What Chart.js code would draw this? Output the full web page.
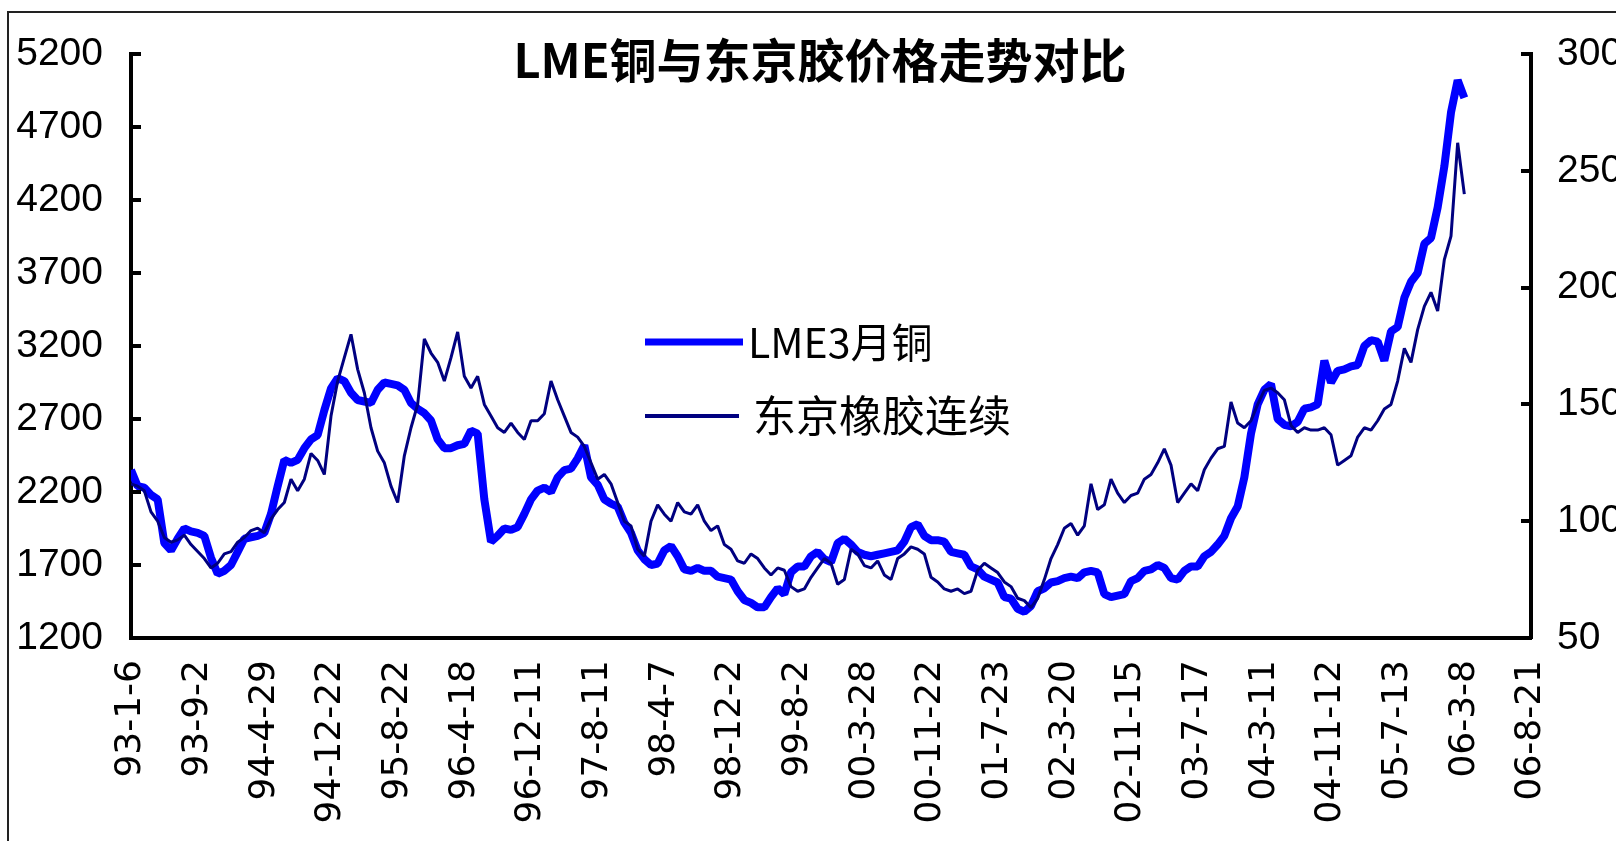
<!DOCTYPE html>
<html>
<head>
<meta charset="utf-8">
<script src="https://cdn.jsdelivr.net/npm/chart.js@4.4.0/dist/chart.umd.min.js"></script>
<style>
  html, body { margin: 0; padding: 0; background: #fff; }
  #wrap { position: relative; width: 1616px; height: 841px; overflow: hidden; }
  #frame { position: absolute; left: 7px; top: 11px; width: 1640px; height: 860px; border: 2px solid #222; pointer-events: none; }
</style>
</head>
<body>
<div id="wrap">
  <canvas id="myChart" width="1616" height="841"></canvas>
  <div id="frame"></div>
</div>
<script>
const titleText = 'LME铜与东京胶价格走势对比';

// x axis labels, one every 10 data steps
const dateLabels = ['93-1-6', '93-9-2', '94-4-29', '94-12-22', '95-8-22', '96-4-18', '96-12-11', '97-8-11',
  '98-4-7', '98-12-2', '99-8-2', '00-3-28', '00-11-22', '01-7-23', '02-3-20', '02-11-15', '03-7-17',
  '04-3-11', '04-11-12', '05-7-13', '06-3-8', '06-8-21'];

// LME 3 month copper (left axis)
const copper = [
  2350, 2240, 2230, 2180, 2150, 1850, 1800, 1880, 1950, 1930,
  1920, 1900, 1750, 1640, 1660, 1700, 1790, 1880, 1890, 1900,
  1920, 2050, 2240, 2420, 2400, 2420, 2500, 2560, 2590, 2760,
  2910, 2980, 2960, 2880, 2830, 2820, 2810, 2900, 2950, 2940,
  2930, 2900, 2810, 2770, 2740, 2690, 2560, 2500, 2500, 2520,
  2530, 2620, 2600, 2150, 1860, 1900, 1950, 1940, 1960, 2050,
  2150, 2210, 2230, 2200, 2300, 2350, 2360, 2430, 2520, 2300,
  2250, 2150, 2120, 2100, 1990, 1920, 1800, 1740, 1700, 1710,
  1800, 1830, 1760, 1670, 1660, 1680, 1660, 1660, 1620, 1610,
  1600, 1520, 1460, 1440, 1410, 1410, 1480, 1540, 1500, 1650,
  1690, 1690, 1760, 1790, 1740, 1720, 1850, 1880, 1840, 1790,
  1770, 1760, 1770, 1780, 1790, 1800, 1860, 1960, 1980, 1900,
  1870, 1870, 1860, 1790, 1780, 1770, 1690, 1670, 1620, 1600,
  1580, 1480, 1470, 1400, 1380, 1420, 1520, 1540, 1580, 1590,
  1610, 1620, 1610, 1650, 1660, 1650, 1500, 1480, 1490, 1500,
  1590, 1610, 1660, 1670, 1700, 1680, 1610, 1600, 1660, 1690,
  1690, 1760, 1790, 1840, 1900, 2020, 2100, 2300, 2600, 2800,
  2900, 2940, 2700, 2660, 2650, 2680, 2770, 2780, 2800, 3100,
  2950, 3030, 3040, 3060, 3070, 3200, 3240, 3230, 3100, 3300,
  3330, 3530, 3640, 3700, 3900, 3940, 4150, 4430, 4800, 5020,
  4900
];

// Tokyo rubber continuous (right axis)
const rubber = [
  116, 115, 113, 104, 100, 93, 91, 92, 94, 90,
  87, 84, 80, 82, 86, 87, 91, 93, 96, 97,
  95, 101, 105, 108, 118, 113, 118, 129, 126, 120,
  145, 160, 170, 180, 165, 155, 140, 130, 125, 115,
  108, 128, 140, 150, 178, 172, 168, 160, 170, 181,
  162, 157, 162, 150, 145, 140, 138, 142, 138, 135,
  143, 143, 146, 160, 152, 145, 138, 136, 132, 125,
  118, 120, 116, 108, 100, 98, 88, 85, 100, 107,
  103, 100, 108, 104, 103, 107, 100, 96, 98, 90,
  88, 83, 82, 86, 84, 80, 77, 80, 79, 72,
  70, 71, 76, 80, 84, 82, 73, 75, 88, 86,
  81, 80, 83, 77, 75, 84, 86, 89, 88, 86,
  76, 74, 71, 70, 71, 69, 70, 79, 82, 80,
  78, 74, 72, 67, 66, 63, 67, 75, 84, 90,
  97, 99, 94, 98, 116, 105, 107, 118, 112, 108,
  111, 112, 118, 120, 125, 131, 124, 108, 112, 116,
  113, 122, 127, 131, 132, 151, 142, 140, 143, 150,
  156, 157, 155, 152, 141, 138, 140, 139, 139, 140,
  137, 124, 126, 128, 136, 140, 139, 143, 148, 150,
  160, 174, 168, 182, 192, 198, 190, 212, 222, 262,
  240
];

const tickFont = { family: "'Liberation Sans', Arial, sans-serif", size: 39 };

// inward tick marks on both value axes
const innerTicks = {
  id: 'innerTicks',
  afterDatasetsDraw(chart) {
    const c = chart.ctx;
    c.save();
    c.strokeStyle = '#000';
    c.lineWidth = 4;
    ['y', 'y2'].forEach(id => {
      const s = chart.scales[id];
      const x0 = id === 'y' ? s.right : s.left;
      const dir = id === 'y' ? 1 : -1;
      s.ticks.forEach(t => {
        const py = Math.round(s.getPixelForValue(t.value));
        c.beginPath();
        c.moveTo(x0, py);
        c.lineTo(x0 + dir * 10, py);
        c.stroke();
      });
    });
    c.restore();
  }
};

// title over the plot and legend inside the plot
const titleLegend = {
  id: 'titleLegend',
  afterDraw(chart) {
    const c = chart.ctx;
    c.save();
    c.fillStyle = '#000';
    c.textBaseline = 'middle';
    c.textAlign = 'center';
    c.font = "bold 47px 'Noto Sans CJK SC', sans-serif";
    c.fillText(titleText, 820, 60);

    const rows = [
      { y: 342, x2: 743, tx: 748, size: 41 },
      { y: 416, x2: 739, tx: 753, size: 43 }
    ];
    c.textAlign = 'left';
    chart.data.datasets.forEach((ds, k) => {
      const r = rows[k];
      c.strokeStyle = ds.borderColor;
      c.lineWidth = ds.borderWidth === 8 ? 7 : 4;
      c.beginPath();
      c.moveTo(645, r.y);
      c.lineTo(r.x2, r.y);
      c.stroke();
      c.font = r.size + "px 'Noto Sans CJK SC', sans-serif";
      c.fillText(ds.label, r.tx, r.y);
    });
    c.restore();
  }
};

const ctx = document.getElementById('myChart');

new Chart(ctx, {
  type: 'line',
  data: {
    datasets: [{
      label: 'LME3月铜',
      data: copper.map((v, i) => ({ x: i, y: v })),
      yAxisID: 'y',
      borderColor: '#0000ff',
      borderWidth: 8,
      borderJoinStyle: 'bevel',
      pointRadius: 0,
      order: 2
    }, {
      label: '东京橡胶连续',
      data: rubber.map((v, i) => ({ x: i, y: v })),
      yAxisID: 'y2',
      borderColor: '#000080',
      borderWidth: 3,
      borderJoinStyle: 'bevel',
      pointRadius: 0,
      order: 1
    }]
  },
  options: {
    responsive: false,
    animation: false,
    layout: { padding: { top: 54, left: 0, right: 0, bottom: 0 } },
    plugins: {
      legend: { display: false },
      tooltip: { enabled: false }
    },
    scales: {
      x: {
        type: 'linear',
        min: 0,
        max: 210,
        grid: { display: false, drawTicks: false },
        border: { display: true, color: '#000', width: 4 },
        ticks: {
          stepSize: 10,
          autoSkip: false,
          minRotation: 90,
          maxRotation: 90,
          padding: 22,
          color: '#000',
          font: { family: "'DejaVu Sans', sans-serif", size: 36 },
          callback: v => dateLabels[Math.round(v / 10)]
        },
        afterFit: s => { s.height = 203; s.paddingLeft = 0; s.paddingRight = 0; }
      },
      y: {
        position: 'left',
        min: 1200,
        max: 5200,
        grid: { display: false, drawTicks: false },
        border: { display: true, color: '#000', width: 4 },
        ticks: { stepSize: 500, padding: 28, color: '#000', font: tickFont, callback: v => String(v) },
        afterFit: s => { s.width = 131; s.paddingTop = 0; s.paddingBottom = 0; }
      },
      y2: {
        position: 'right',
        min: 50,
        max: 300,
        grid: { display: false, drawTicks: false },
        border: { display: true, color: '#000', width: 4 },
        ticks: { stepSize: 50, padding: 26, color: '#000', font: tickFont, callback: v => String(v) },
        afterFit: s => { s.width = 85; s.paddingTop = 0; s.paddingBottom = 0; }
      }
    }
  },
  plugins: [innerTicks, titleLegend]
});
</script>
</body>
</html>
